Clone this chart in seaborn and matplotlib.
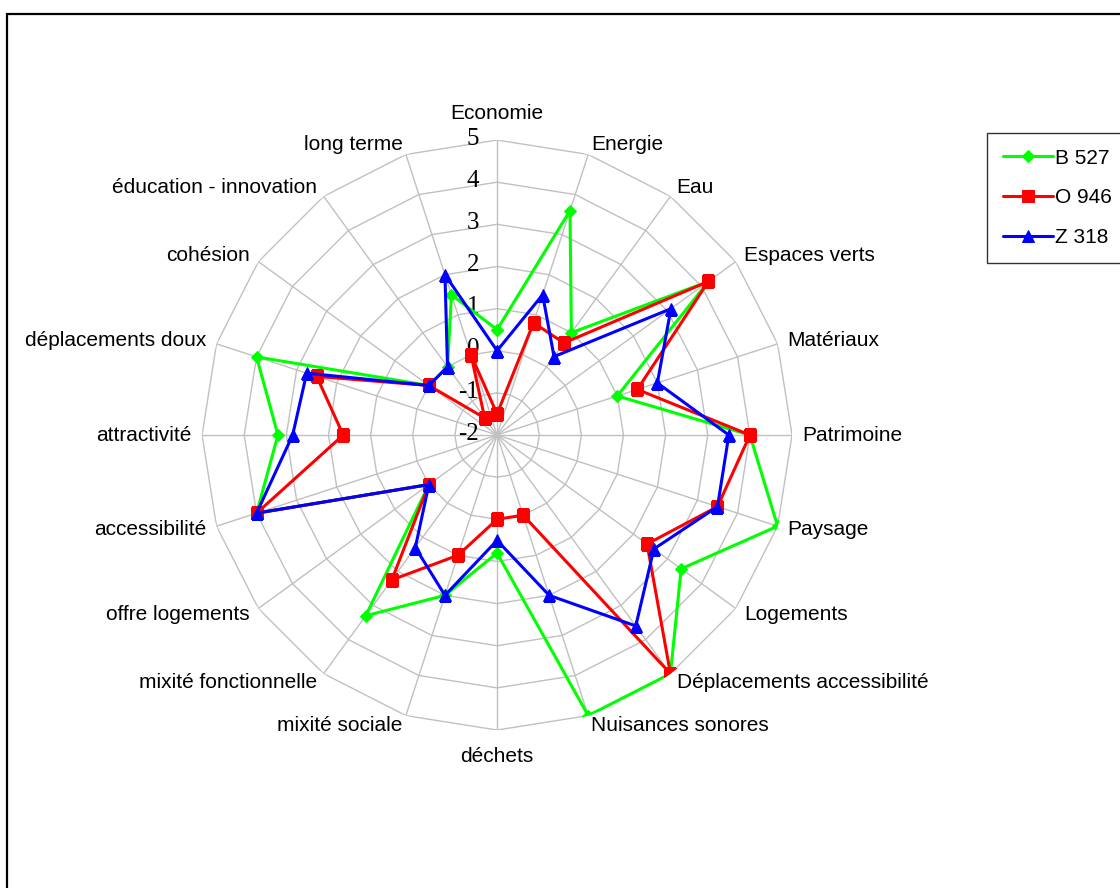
import numpy as np
import pandas as pd
import matplotlib
matplotlib.use('Agg')
import matplotlib.pyplot as plt
import seaborn as sns
from matplotlib.patches import Rectangle

categories = ['Economie', 'Energie', 'Eau', 'Espaces verts', 'Matériaux', 'Patrimoine',
              'Paysage', 'Logements', 'Déplacements accessibilité', 'Nuisances sonores',
              'déchets', 'mixité sociale', 'mixité fonctionnelle', 'offre logements',
              'accessibilité', 'attractivité', 'déplacements doux', 'cohésion',
              'éducation - innovation', 'long terme']
b527 = [0.5, 3.6, 1.0, 4.2, 1.0, 4.0, 5.0, 3.4, 5.0, 5.0,
        0.8, 2.0, 3.3, 0.0, 4.0, 3.2, 4.0, 0.0, 0.0, 1.5]
o946 = [-1.5, 0.8, 0.7, 4.2, 1.5, 4.0, 3.5, 2.4, 5.0, 0.0,
        0.0, 1.0, 2.25, 0.0, 4.0, 1.65, 2.5, 0.0, -1.5, 0.0]
z318 = [0.0, 1.5, 0.3, 3.1, 2.0, 3.5, 3.5, 2.6, 3.6, 2.0,
        0.5, 2.0, 1.3, 0.0, 4.0, 2.85, 2.75, 0.0, 0.0, 2.0]
series_names = ['B 527', 'O 946', 'Z 318']
r_ticks = [-2, -1, 0, 1, 2, 3, 4, 5]

n = len(categories)
theta = np.linspace(0, 2 * np.pi, n, endpoint=False)
theta_closed = np.append(theta, 2 * np.pi)

rows = []
for name, vals in zip(series_names, [b527, o946, z318]):
    for t, v in zip(theta_closed, list(vals) + [vals[0]]):
        rows.append({'site': name, 'theta': t, 'value': v})
df = pd.DataFrame(rows)

sns.set_style('white')
plt.rcParams['font.family'] = ['Liberation Sans', 'DejaVu Sans']
plt.rcParams['text.color'] = 'black'

fig = plt.figure(figsize=(11.2, 8.88), dpi=100)
ax = fig.add_axes([0.1804, 0.1779, 0.5268, 0.6644], projection='polar')
ax.set_theta_zero_location('N')
ax.set_theta_direction(-1)
ax.set_ylim(-2, 5)
ax.grid(False)
ax.spines['polar'].set_visible(False)
ax.set_xticks([])
ax.set_yticks([])

# polygon web like the spreadsheet radar
grid_col = '#c0c0c0'
for r in r_ticks[1:]:
    ax.plot(theta_closed, [r] * (n + 1), color=grid_col, lw=1, zorder=1)
for t in theta:
    ax.plot([t, t], [-2, 5], color=grid_col, lw=1, zorder=1)

# radial tick numbers
for r in r_ticks:
    ax.annotate(str(r), xy=(0, r), xytext=(-13, 1), textcoords='offset points',
                ha='right', va='center', fontsize=18, family='Liberation Serif',
                color='black', zorder=2)

n_before = len(ax.lines)
palette = {'B 527': '#00ff00', 'O 946': '#ff0000', 'Z 318': '#0000ff'}
markers = {'B 527': 'D', 'O 946': 's', 'Z 318': '^'}
sns.lineplot(data=df, x='theta', y='value', hue='site', style='site',
             palette=palette, markers=markers, dashes=False, sort=False,
             estimator=None, lw=2.2, ax=ax, legend=False, zorder=3)
data_lines = ax.lines[n_before:]
sizes = {'B 527': 6, 'O 946': 8, 'Z 318': 8.5}
for line, name in zip(data_lines, series_names):
    line.set_markeredgecolor(palette[name])
    line.set_markerfacecolor(palette[name])
    line.set_markersize(sizes[name])
ax.set_xlabel('')
ax.set_ylabel('')

# category labels
for t, lab in zip(theta, categories):
    s, c = np.sin(t), np.cos(t)
    ha = 'left' if s > 0.1 else ('right' if s < -0.1 else 'center')
    if abs(s) <= 0.1:
        va = 'bottom' if c > 0 else 'top'
        rr = 5.4
    else:
        va = 'center'
        rr = 5.25
    ax.text(t, rr, lab, ha=ha, va=va, fontsize=15, color='black')

fig.legend(handles=data_lines, labels=series_names, loc='upper left',
           bbox_to_anchor=(0.8813, 0.8502), frameon=True, fancybox=False,
           edgecolor='black', borderaxespad=0, handlelength=2.4,
           handletextpad=0.1, labelspacing=1.0, borderpad=0.75, fontsize=15)

fig.patches.append(Rectangle((0.00625, -0.1), 1.2, 1.0842, transform=fig.transFigure,
                             fill=False, edgecolor='black', lw=1.6))

fig.savefig('out.png', dpi=100)
